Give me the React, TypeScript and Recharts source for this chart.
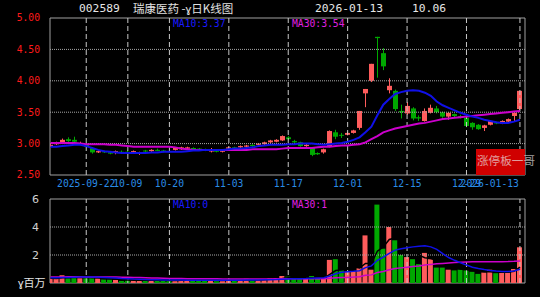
import React from 'react';
import {
  ComposedChart,
  Bar,
  Line,
  Cell,
  XAxis,
  YAxis,
  ReferenceLine,
  ReferenceArea,
} from 'recharts';

const dates = [
  '2025-09-12', '2025-09-15', '2025-09-16', '2025-09-17', '2025-09-18', '2025-09-19',
  '2025-09-22', '2025-09-23', '2025-09-24', '2025-09-25', '2025-09-26', '2025-09-29', '2025-09-30',
  '2025-10-09', '2025-10-10', '2025-10-13', '2025-10-14', '2025-10-15', '2025-10-16', '2025-10-17',
  '2025-10-20', '2025-10-21', '2025-10-22', '2025-10-23', '2025-10-24',
  '2025-10-27', '2025-10-28', '2025-10-29', '2025-10-30', '2025-10-31',
  '2025-11-03', '2025-11-04', '2025-11-05', '2025-11-06', '2025-11-07',
  '2025-11-10', '2025-11-11', '2025-11-12', '2025-11-13', '2025-11-14',
  '2025-11-17', '2025-11-18', '2025-11-19', '2025-11-20', '2025-11-21',
  '2025-11-24', '2025-11-25', '2025-11-26', '2025-11-27', '2025-11-28',
  '2025-12-01', '2025-12-02', '2025-12-03', '2025-12-04', '2025-12-05',
  '2025-12-08', '2025-12-09', '2025-12-10', '2025-12-11', '2025-12-12',
  '2025-12-15', '2025-12-16', '2025-12-17', '2025-12-18', '2025-12-19',
  '2025-12-22', '2025-12-23', '2025-12-24', '2025-12-25', '2025-12-26',
  '2025-12-29', '2025-12-30', '2025-12-31',
  '2026-01-05', '2026-01-06', '2026-01-07', '2026-01-08', '2026-01-09',
  '2026-01-12', '2026-01-13',
];

const open = [
  2.96, 2.99, 3.02, 3.07, 3.06, 3.00, 2.99, 2.93, 2.86, 2.88,
  2.86, 2.85, 2.87, 2.87, 2.85, 2.84, 2.89, 2.88, 2.90, 2.89,
  2.88, 2.90, 2.91, 2.92, 2.93, 2.92, 2.91, 2.88, 2.89, 2.87,
  2.92, 2.94, 2.94, 2.95, 2.98, 2.98, 2.99, 3.02, 3.03, 3.05,
  3.10, 3.04, 3.02, 2.96, 2.93, 2.85, 2.86, 2.96, 3.18, 3.14,
  3.14, 3.17, 3.25, 3.80, 4.00, 4.70, 4.44, 3.85, 3.84, 3.52,
  3.48, 3.56, 3.42, 3.36, 3.49, 3.56, 3.50, 3.43, 3.47, 3.44,
  3.41, 3.33, 3.30, 3.25, 3.30, 3.34, 3.32, 3.35, 3.44, 3.55,
];
const close = [
  2.98, 3.01, 3.06, 3.04, 3.03, 3.01, 2.95, 2.86, 2.88, 2.86,
  2.84, 2.88, 2.86, 2.86, 2.88, 2.86, 2.88, 2.90, 2.89, 2.87,
  2.87, 2.93, 2.94, 2.94, 2.92, 2.90, 2.89, 2.89, 2.87, 2.89,
  2.94, 2.92, 2.96, 2.97, 2.96, 3.00, 3.02, 3.05, 3.06, 3.12,
  3.07, 3.02, 2.96, 2.98, 2.82, 2.83, 2.91, 3.20, 3.11, 3.13,
  3.17, 3.21, 3.52, 3.87, 4.27, 4.68, 4.23, 3.92, 3.55, 3.50,
  3.60, 3.40, 3.40, 3.52, 3.57, 3.50, 3.43, 3.49, 3.44, 3.43,
  3.28, 3.26, 3.23, 3.29, 3.36, 3.32, 3.36, 3.39, 3.49, 3.84,
];
const high = [
  2.99, 3.03, 3.08, 3.10, 3.11, 3.03, 3.00, 2.94, 2.90, 2.89,
  2.87, 2.89, 2.89, 2.90, 2.89, 2.87, 2.90, 2.91, 2.92, 2.90,
  2.90, 2.94, 2.95, 2.95, 2.94, 2.93, 2.92, 2.93, 2.90, 2.90,
  2.95, 2.95, 2.97, 2.98, 2.99, 3.01, 3.03, 3.06, 3.07, 3.13,
  3.12, 3.06, 3.03, 3.00, 2.94, 2.86, 2.92, 3.21, 3.22, 3.17,
  3.19, 3.22, 3.52, 3.87, 4.27, 4.70, 4.52, 4.04, 3.86, 3.62,
  3.66, 3.58, 3.45, 3.56, 3.62, 3.60, 3.51, 3.50, 3.48, 3.46,
  3.42, 3.34, 3.31, 3.30, 3.37, 3.35, 3.37, 3.40, 3.50, 3.84,
];
const low = [
  2.95, 2.98, 3.01, 3.02, 3.01, 2.98, 2.93, 2.84, 2.85, 2.85,
  2.83, 2.83, 2.84, 2.83, 2.84, 2.82, 2.86, 2.87, 2.88, 2.86,
  2.86, 2.89, 2.90, 2.91, 2.90, 2.89, 2.88, 2.86, 2.86, 2.86,
  2.91, 2.91, 2.93, 2.94, 2.95, 2.97, 2.98, 3.01, 3.02, 3.04,
  3.05, 3.01, 2.95, 2.95, 2.80, 2.82, 2.84, 2.94, 3.07, 3.09,
  3.13, 3.16, 3.22, 3.58, 3.98, 4.05, 4.17, 3.80, 3.52, 3.40,
  3.46, 3.37, 3.36, 3.35, 3.48, 3.48, 3.41, 3.38, 3.42, 3.40,
  3.26, 3.22, 3.22, 3.20, 3.29, 3.31, 3.31, 3.34, 3.36, 3.50,
];

const ma10 = [
  2.95, 2.95, 2.96, 2.97, 2.98, 2.98, 2.96, 2.93, 2.90, 2.88,
  2.87, 2.86, 2.85, 2.85, 2.85, 2.85, 2.85, 2.86, 2.86, 2.87,
  2.87, 2.87, 2.87, 2.88, 2.89, 2.89, 2.90, 2.90, 2.90, 2.90,
  2.91, 2.92, 2.92, 2.93, 2.94, 2.96, 2.97, 2.98, 2.98, 2.98,
  2.99, 2.99, 3.00, 3.00, 3.00, 2.99, 2.98, 2.99, 3.00, 3.01,
  3.03, 3.06, 3.10, 3.18, 3.27, 3.45, 3.62, 3.71, 3.79, 3.82,
  3.84, 3.85, 3.84, 3.81, 3.76, 3.67, 3.61, 3.57, 3.53, 3.49,
  3.46, 3.43, 3.41, 3.38, 3.36, 3.34, 3.33, 3.33, 3.35, 3.38,
];
const ma30 = [
  3.01, 3.01, 3.01, 3.01, 3.01, 3.00, 2.99, 2.99, 2.99, 2.99,
  2.98, 2.98, 2.97, 2.96, 2.95, 2.95, 2.95, 2.95, 2.95, 2.95,
  2.95, 2.94, 2.92, 2.91, 2.90, 2.90, 2.90, 2.90, 2.90, 2.90,
  2.90, 2.90, 2.90, 2.90, 2.91, 2.91, 2.91, 2.91, 2.91, 2.92,
  2.93, 2.93, 2.93, 2.93, 2.93, 2.94, 2.95, 2.95, 2.96, 2.97,
  2.97, 2.98, 2.99, 3.02, 3.07, 3.12, 3.18, 3.21, 3.24, 3.26,
  3.28, 3.30, 3.32, 3.33, 3.35, 3.37, 3.39, 3.40, 3.41, 3.42,
  3.43, 3.44, 3.45, 3.46, 3.47, 3.48, 3.49, 3.50, 3.51, 3.52,
];

// volume in millions of shares
const volume = [
  0.30, 0.30, 0.55, 0.33, 0.48, 0.35, 0.35, 0.35, 0.33, 0.25,
  0.25, 0.22, 0.15, 0.18, 0.20, 0.22, 0.18, 0.20, 0.15, 0.18,
  0.20, 0.20, 0.22, 0.20, 0.18, 0.15, 0.18, 0.20, 0.18, 0.20,
  0.22, 0.18, 0.20, 0.30, 0.20, 0.22, 0.25, 0.35, 0.35, 0.50,
  0.45, 0.30, 0.30, 0.30, 0.50, 0.30, 0.30, 1.65, 1.70, 0.90,
  0.80, 0.85, 1.05, 3.40, 0.95, 5.60, 2.45, 4.00, 3.05, 2.00,
  1.85, 1.70, 1.35, 2.15, 1.70, 1.10, 1.10, 0.95, 0.90, 0.95,
  0.90, 0.80, 0.65, 0.75, 0.95, 0.70, 0.75, 0.75, 1.00, 2.55,
];
const volMa5 = [
  0.34, 0.33, 0.38, 0.39, 0.39, 0.40, 0.41, 0.37, 0.37, 0.33,
  0.31, 0.28, 0.24, 0.21, 0.20, 0.20, 0.19, 0.19, 0.19, 0.19,
  0.18, 0.18, 0.19, 0.20, 0.20, 0.19, 0.19, 0.19, 0.18, 0.18,
  0.19, 0.20, 0.20, 0.22, 0.22, 0.22, 0.23, 0.26, 0.29, 0.33,
  0.38, 0.39, 0.39, 0.38, 0.37, 0.36, 0.34, 0.61, 0.89, 0.95,
  1.07, 1.20, 1.07, 1.40, 1.41, 2.27, 2.58, 3.11, 3.21, 3.42,
  2.67, 2.52, 1.99, 1.81, 1.75, 1.60, 1.60, 1.40, 1.15, 1.00,
  0.96, 0.90, 0.85, 0.81, 0.81, 0.77, 0.76, 0.76, 0.84, 1.14,
];
const volMa10 = [
  0.38, 0.38, 0.39, 0.40, 0.41, 0.42, 0.42, 0.42, 0.41, 0.40,
  0.38, 0.35, 0.32, 0.30, 0.28, 0.27, 0.25, 0.24, 0.23, 0.22,
  0.21, 0.21, 0.21, 0.20, 0.20, 0.20, 0.20, 0.20, 0.20, 0.20,
  0.20, 0.20, 0.20, 0.21, 0.21, 0.22, 0.23, 0.24, 0.25, 0.27,
  0.29, 0.30, 0.31, 0.32, 0.34, 0.36, 0.37, 0.50, 0.66, 0.76,
  0.81, 0.84, 0.88, 1.10, 1.22, 1.62, 1.85, 2.12, 2.35, 2.45,
  2.52, 2.58, 2.63, 2.66, 2.58, 2.40, 2.10, 1.82, 1.62, 1.45,
  1.28, 1.13, 1.03, 0.96, 0.90, 0.85, 0.82, 0.82, 0.86, 0.98,
];
const volMa30 = [
  0.43, 0.43, 0.43, 0.44, 0.44, 0.44, 0.43, 0.43, 0.43, 0.43,
  0.42, 0.42, 0.41, 0.41, 0.40, 0.39, 0.38, 0.36, 0.35, 0.34,
  0.33, 0.32, 0.32, 0.31, 0.31, 0.30, 0.30, 0.30, 0.30, 0.29,
  0.29, 0.29, 0.29, 0.29, 0.29, 0.29, 0.29, 0.29, 0.30, 0.30,
  0.30, 0.30, 0.30, 0.30, 0.30, 0.30, 0.31, 0.34, 0.37, 0.39,
  0.40, 0.42, 0.45, 0.55, 0.58, 0.75, 0.82, 0.95, 1.03, 1.08,
  1.13, 1.18, 1.22, 1.28, 1.33, 1.37, 1.40, 1.43, 1.46, 1.49,
  1.50, 1.51, 1.52, 1.52, 1.52, 1.52, 1.52, 1.53, 1.55, 1.58,
];

const tickDates = [
  '2025-09-22', '2025-10-09', '2025-10-20', '2025-11-03', '2025-11-17',
  '2025-12-01', '2025-12-15', '2025-12-29', '2026-01-13',
];
const tickLabels = ['2025-09-22', '10-09', '10-20', '11-03', '11-17', '12-01', '12-15', '12-29', '2026-01-13'];
const priceTicks = [2.5, 3, 3.5, 4, 4.5, 5];
const priceGrid = [3, 3.5, 4, 4.5];
const volTicks = [2, 4, 6];
const volGrid = [2, 4];

const RED = '#ff5c5c';
const GREEN = '#00a800';
const BLUE = '#1010e8';
const MAGENTA = '#cc00cc';
const MONO = '"DejaVu Sans Mono", monospace';

const tickIdx = tickDates.map((d) => dates.indexOf(d));

const data = dates.map((d, i) => ({
  idx: i,
  date: d,
  open: open[i],
  close: close[i],
  high: high[i],
  low: low[i],
  range: [low[i], high[i]],
  ma10: ma10[i],
  ma30: ma30[i],
  volume: volume[i],
  volMa5: volMa5[i],
  volMa10: volMa10[i],
  volMa30: volMa30[i],
}));

const Candle = (props: any) => {
  const { x, y, width, height, payload } = props;
  if (!payload) return null;
  const top = Math.min(y, y + height);
  const h = Math.abs(height);
  const span = payload.high - payload.low || 0.0001;
  const per = h / span;
  const yOpen = top + (payload.high - payload.open) * per;
  const yClose = top + (payload.high - payload.close) * per;
  const color = payload.close >= payload.open ? RED : GREEN;
  const cx = Math.round(x + width / 2) + 0.5;
  const bodyTop = Math.min(yOpen, yClose);
  const bodyH = Math.max(Math.abs(yOpen - yClose), 1);
  return (
    <g>
      <line x1={cx} x2={cx} y1={top} y2={top + h} stroke={color} strokeWidth={1} />
      <rect x={cx - 2.5} y={bodyTop} width={5} height={bodyH} fill={color} />
    </g>
  );
};

const DateTick = (props: any) => {
  const { x, y, payload } = props;
  const k = tickIdx.indexOf(payload.value);
  const last = k === tickIdx.length - 1;
  return (
    <text
      x={last ? x - 1 : x}
      y={y + 1}
      dy="0.35em"
      textAnchor={last ? 'end' : 'middle'}
      fill="#2a8ce6"
      fontSize={9.7}
      fontFamily={MONO}
    >
      {tickLabels[k]}
    </text>
  );
};

const label = (left: number, top: number, color: string, text: string, size = 9.7, font = MONO) => (
  <div
    style={{
      position: 'absolute',
      left,
      top,
      color,
      fontSize: size,
      fontFamily: font,
      lineHeight: 1,
      whiteSpace: 'nowrap',
    }}
  >
    {text}
  </div>
);

export default function App() {
  const xDomain = [-0.1, 79.85];
  return (
    <div
      style={{
        position: 'absolute',
        left: 0,
        top: 0,
        width: 540,
        height: 297,
        background: '#000',
        overflow: 'hidden',
      }}
    >
      <div style={{ position: 'absolute', left: 0, top: 0 }}>
        <ComposedChart width={540} height={192} data={data} margin={{ top: 18, right: 15, left: 0, bottom: 0 }}>
          <XAxis
            dataKey="idx"
            type="number"
            domain={xDomain}
            allowDataOverflow
            ticks={tickIdx}
            interval={0}
            tick={<DateTick />}
            tickLine={false}
            axisLine={false}
            height={17}
          />
          <YAxis
            domain={[2.5, 5]}
            ticks={priceTicks}
            allowDataOverflow
            width={50}
            tickLine={false}
            axisLine={false}
            tickMargin={4}
            interval={0}
            tickFormatter={(v: number) => v.toFixed(2)}
            tick={{ fill: '#ff1a1a', fontSize: 9.7, fontFamily: MONO }}
          />
          {priceGrid.map((v) => (
            <ReferenceLine key={'h' + v} y={v} stroke="#a8a8a8" strokeDasharray="1 1" />
          ))}
          {tickIdx.map((v) => (
            <ReferenceLine key={'v' + v} x={v} stroke="#c8c8c8" strokeDasharray="5 3" />
          ))}
          <ReferenceArea y1={2.5} y2={5} fill="none" stroke="#a0a0a0" strokeWidth={1} />
          <Bar dataKey="range" barSize={5} shape={<Candle />} isAnimationActive={false} />
          <Line dataKey="ma30" type="linear" stroke={MAGENTA} strokeWidth={2} dot={false} isAnimationActive={false} />
          <Line dataKey="ma10" type="linear" stroke={BLUE} strokeWidth={2} dot={false} isAnimationActive={false} />
        </ComposedChart>
      </div>

      <div style={{ position: 'absolute', left: 0, top: 190 }}>
        <ComposedChart width={540} height={107} data={data} margin={{ top: 9, right: 15, left: 0, bottom: 14 }}>
          <XAxis dataKey="idx" type="number" domain={xDomain} allowDataOverflow hide />
          <YAxis
            domain={[0, 6]}
            ticks={volTicks}
            allowDataOverflow
            width={50}
            tickLine={false}
            axisLine={false}
            tickMargin={5}
            interval={0}
            tick={{ fill: '#d0d0d0', fontSize: 11, fontFamily: '"DejaVu Sans", sans-serif' }}
          />
          {volGrid.map((v) => (
            <ReferenceLine key={'vh' + v} y={v} stroke="#a8a8a8" strokeDasharray="1 1" />
          ))}
          {tickIdx.map((v) => (
            <ReferenceLine key={'vv' + v} x={v} stroke="#c8c8c8" strokeDasharray="5 3" />
          ))}
          <ReferenceArea y1={0} y2={6} fill="none" stroke="#a0a0a0" strokeWidth={1} />
          <Bar dataKey="volume" barSize={5} isAnimationActive={false}>
            {data.map((d) => (
              <Cell key={d.idx} fill={d.close >= d.open ? RED : GREEN} />
            ))}
          </Bar>
          <Line dataKey="volMa5" type="linear" stroke="#000" strokeWidth={1.5} dot={false} isAnimationActive={false} />
          <Line dataKey="volMa30" type="linear" stroke={MAGENTA} strokeWidth={1.5} dot={false} isAnimationActive={false} />
          <Line dataKey="volMa10" type="linear" stroke={BLUE} strokeWidth={1.5} dot={false} isAnimationActive={false} />
        </ComposedChart>
      </div>

      {label(79, 3, '#e6e6e6', '002589', 11.3)}
      {label(133, 3, '#e0e0e0', '瑞康医药 -ɣ日K线图', 11.5, '"Noto Sans CJK SC", sans-serif')}
      {label(315, 3, '#e6e6e6', '2026-01-13', 11.3)}
      {label(412, 3, '#e6e6e6', '10.06', 11.3)}
      {label(173, 19, '#1a1aff', 'MA10:3.37')}
      {label(292, 19, '#e020e0', 'MA30:3.54')}
      {label(173, 200, '#1a1aff', 'MA10:0')}
      {label(292, 200, '#e020e0', 'MA30:1')}
      {label(18, 277, '#e6e6e6', 'ɣ百万', 11, '"Noto Sans CJK SC", sans-serif')}

      <div
        style={{
          position: 'absolute',
          left: 476,
          top: 149,
          width: 49,
          height: 26,
          background: '#d00000',
        }}
      />
      <div
        style={{
          position: 'absolute',
          left: 477,
          top: 155,
          fontSize: 11.6,
          lineHeight: 1,
          whiteSpace: 'nowrap',
          color: 'rgba(235,235,235,0.68)',
          fontFamily: '"Noto Sans CJK SC", sans-serif',
        }}
      >
        涨停板一哥
      </div>
    </div>
  );
}
